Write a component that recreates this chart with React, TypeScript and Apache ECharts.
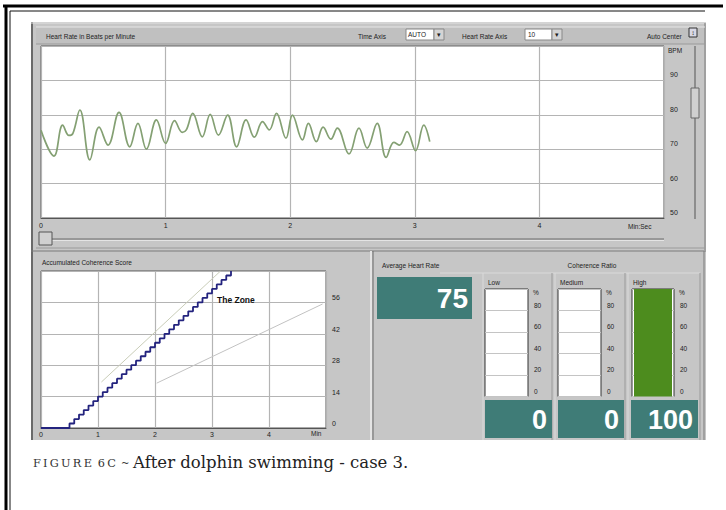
import React, { useEffect, useRef } from 'react';
import * as echarts from 'echarts';

// Heart rate trace (minutes, beats per minute)
const hrMinutes = [0, 0.104, 0.174, 0.224, 0.256, 0.312, 0.392, 0.466, 0.538, 0.626, 0.712, 0.778, 0.846, 0.926, 1.0, 1.072, 1.134, 1.166, 1.218, 1.294, 1.358, 1.424, 1.498, 1.57, 1.646, 1.712, 1.778, 1.832, 1.89, 1.966, 2.018, 2.098, 2.146, 2.21, 2.264, 2.326, 2.378, 2.472, 2.552, 2.618, 2.698, 2.77, 2.832, 2.878, 2.938, 3.006, 3.072, 3.12];
const hrBpm = [75.5, 68, 77, 74, 74.6, 81.4, 66.9, 76.4, 71.2, 80.7, 70.7, 77.5, 70, 78.5, 71.7, 78.3, 74.9, 75.6, 80.4, 73.6, 80.1, 74.1, 79.9, 70.7, 78.5, 73.5, 78, 75.6, 80.4, 73.2, 79.9, 72.7, 77.5, 72.2, 76.4, 72.9, 76.1, 68.6, 76.1, 70.3, 77.5, 67.6, 72, 71.2, 75.1, 69.6, 77, 72.2];

// Accumulated coherence score (seconds, score)
const scoreSeconds = [0, 25, 30, 35, 40, 45, 50, 55, 60, 65, 70, 75, 80, 85, 90, 95, 100, 105, 110, 115, 120, 125, 130, 135, 140, 145, 150, 155, 160, 165, 170, 175, 180, 185, 190, 195, 200];
const scoreValues = [0, 0, 2, 4, 6, 8, 10, 12, 14, 16, 18, 20, 22, 24, 26, 28, 30, 32, 34, 36, 38, 40, 42, 44, 46, 48, 50, 52, 54, 56, 58, 60, 62, 64, 66, 68, 70];

// Zone guide lines (minutes, score)
const zoneUpperX = [1.06, 3.15];
const zoneUpperY = [20.5, 70];
const zoneLowerX = [2.03, 4.94];
const zoneLowerY = [20, 55.3];

// Summary values
const averageHeartRate = 75;
const coherenceLevels = ['Low', 'Medium', 'High'];
const coherencePercent = [0, 0, 100];

// Tick labels
const hrTimeTicks = [0, 1, 2, 3, 4];
const hrBpmTicks = [50, 60, 70, 80, 90];
const scoreTicks = [0, 14, 28, 42, 56];
const pctTicks = [0, 20, 40, 60, 80];

const SANS = '"Liberation Sans", Arial, sans-serif';
const SERIF = '"DejaVu Serif", "Liberation Serif", serif';
const TEAL = '#3f7c77';
const PANEL = '#c6c6c6';

function txt(x: number, y: number, text: string, size = 6.5, extra: any = {}) {
  return {
    type: 'text',
    x,
    y,
    z: 100,
    style: {
      text,
      fill: '#222',
      font: `${extra.weight || 'normal'} ${size}px ${extra.family || SANS}`,
      align: extra.align || 'left',
      verticalAlign: 'middle',
      textAlign: extra.align || 'left',
      textVerticalAlign: 'middle',
      ...(extra.fill ? { fill: extra.fill } : {}),
    },
  };
}
function rect(x: number, y: number, w: number, h: number, style: any, z = -10) {
  return { type: 'rect', z, shape: { x, y, width: w, height: h }, style };
}
function line(x1: number, y1: number, x2: number, y2: number, stroke: string, lw = 1, z = -8) {
  return { type: 'line', z, shape: { x1, y1, x2, y2 }, style: { stroke, lineWidth: lw } };
}

export default function App() {
  const ref = useRef<HTMLDivElement>(null);
  useEffect(() => {
    if (!ref.current) return;
    const chart = echarts.init(ref.current, undefined, { renderer: 'svg' });

    const hrData = hrMinutes.map((m, i) => [m, hrBpm[i]]);
    const scoreData = scoreSeconds.map((s, i) => [s / 60, scoreValues[i]]);
    const upper = zoneUpperX.map((x, i) => [x, zoneUpperY[i]]);
    const lower = zoneLowerX.map((x, i) => [x, zoneLowerY[i]]);

    const barGrids = [
      { left: 485, top: 289, width: 43, height: 107.5 },
      { left: 558, top: 289, width: 43, height: 107.5 },
      { left: 632, top: 289, width: 42, height: 107.5 },
    ];
    const plotGrid = { show: true, backgroundColor: '#ffffff', borderColor: '#555', borderWidth: 1 };

    const axisLbl = { fontSize: 7, color: '#222', fontFamily: SANS };

    const xAxes: any[] = [
      {
        type: 'value', gridIndex: 0, min: 0, max: 5, interval: 1,
        axisLine: { show: true, lineStyle: { color: '#555' } }, axisTick: { show: false },
        splitLine: { show: true, lineStyle: { color: '#b4b4b4', width: 1.2 } },
        axisLabel: { ...axisLbl, margin: 4, formatter: (v: number) => (hrTimeTicks.includes(v) ? String(v) : '') },
      },
      {
        type: 'value', gridIndex: 1, min: 0, max: 5, interval: 1,
        axisLine: { show: true, lineStyle: { color: '#555' } }, axisTick: { show: false },
        splitLine: { show: true, lineStyle: { color: '#b4b4b4', width: 1.2 } },
        axisLabel: { ...axisLbl, margin: 3, formatter: (v: number) => (hrTimeTicks.includes(v) ? String(v) : '') },
      },
    ];
    const yAxes: any[] = [
      {
        type: 'value', gridIndex: 0, position: 'right', min: 50, max: 100, interval: 10,
        axisLine: { show: false }, axisTick: { show: false },
        splitLine: { show: true, lineStyle: { color: '#b4b4b4', width: 1.2 } },
        axisLabel: { ...axisLbl, margin: 6, verticalAlign: 'bottom', padding: [0, 0, 2, 0], formatter: (v: number) => (hrBpmTicks.includes(v) ? String(v) : '') },
      },
      {
        type: 'value', gridIndex: 1, position: 'right', min: 0, max: 70, interval: 14,
        axisLine: { show: false }, axisTick: { show: false },
        splitLine: { show: true, lineStyle: { color: '#b4b4b4', width: 1.2 } },
        axisLabel: { ...axisLbl, margin: 6, verticalAlign: 'bottom', padding: [0, 0, 1, 0], formatter: (v: number) => (scoreTicks.includes(v) ? String(v) : '') },
      },
    ];
    const series: any[] = [
      {
        type: 'line', xAxisIndex: 0, yAxisIndex: 0, data: hrData, smooth: 0.4, showSymbol: false,
        lineStyle: { color: '#84a073', width: 1.7 },
      },
      {
        type: 'line', xAxisIndex: 1, yAxisIndex: 1, data: upper, showSymbol: false,
        lineStyle: { color: '#c9cdb8', width: 1 },
      },
      {
        type: 'line', xAxisIndex: 1, yAxisIndex: 1, data: lower, showSymbol: false,
        lineStyle: { color: '#c2c2c2', width: 1 },
      },
      {
        type: 'line', xAxisIndex: 1, yAxisIndex: 1, data: scoreData, step: 'end', showSymbol: false,
        lineStyle: { color: '#23237e', width: 1.8 },
      },
    ];
    barGrids.forEach((g, i) => {
      xAxes.push({
        type: 'category', gridIndex: 2 + i, data: [coherenceLevels[i]],
        axisLine: { show: false }, axisTick: { show: false }, axisLabel: { show: false },
      });
      yAxes.push({
        type: 'value', gridIndex: 2 + i, position: 'right', min: 0, max: 100, interval: 20,
        axisLine: { show: false }, axisTick: { show: false },
        splitLine: { show: true, lineStyle: { color: '#c4c4c4', width: 1 } },
        axisLabel: { ...axisLbl, fontSize: 6.5, margin: 6, verticalAlign: 'bottom', padding: [0, 0, 2, 0], formatter: (v: number) => (pctTicks.includes(v) ? String(v) : '') },
      });
      series.push({
        type: 'bar', xAxisIndex: 2 + i, yAxisIndex: 2 + i, data: [coherencePercent[i]],
        barWidth: 38, itemStyle: { color: '#4d8c1e' },
      });
    });

    const elements: any[] = [
      // page frame
      line(3, 6, 723, 6, '#000', 3, 5),
      line(6, 5, 6, 510, '#000', 3, 5),
      line(10, 11, 705, 11, '#111', 1, 5),
      line(10, 11, 10, 510, '#111', 1, 5),
      // screenshot panel
      rect(31, 22, 675, 418, { fill: PANEL }, -20),
      line(32, 22, 32, 440, '#6a6a6a', 2, -9),
      line(31, 23, 706, 23, '#e2e2e2', 1, -9),
      line(705, 23, 705, 250, '#7a7a7a', 1, -9),
      rect(36, 27, 669, 17, { fill: '#c0c0c0' }, -15),
      line(36, 27, 705, 27, '#e6e6e6', 1, -9),
      line(36, 44, 705, 44, '#9a9a9a', 1, -9),
      // top header texts
      txt(46, 36, 'Heart Rate in Beats per Minute'),
      txt(358, 36, 'Time Axis'),
      rect(406, 29, 28, 11, { fill: '#fff', stroke: '#888', lineWidth: 1 }, 20),
      txt(408, 34.5, 'AUTO'),
      rect(434, 29, 10, 11, { fill: '#d4d4d4', stroke: '#888', lineWidth: 1 }, 20),
      txt(439, 34.5, '▾', 7, { align: 'center' }),
      txt(462, 36, 'Heart Rate Axis'),
      rect(525, 29, 27, 11, { fill: '#fff', stroke: '#888', lineWidth: 1 }, 20),
      txt(528, 34.5, '10'),
      rect(552, 29, 10, 11, { fill: '#d4d4d4', stroke: '#888', lineWidth: 1 }, 20),
      txt(557, 34.5, '▾', 7, { align: 'center' }),
      txt(647, 36, 'Auto Center'),
      rect(689, 28, 8, 9, { fill: '#d8d8e4', stroke: '#333', lineWidth: 1 }, 20),
      txt(693, 32.5, '↕', 6.5, { align: 'center' }),
      // top plot extras
      txt(668, 50, 'BPM'),
      txt(628, 226, 'Min:Sec'),
      line(695, 46, 695, 219, '#555', 1, 20),
      rect(691, 88, 8, 30, { fill: '#d0d0d0', stroke: '#666', lineWidth: 1 }, 21),
      line(52, 239, 664, 239, '#6a6a6a', 1, 20),
      line(52, 240.5, 664, 240.5, '#e4e4e4', 1, 20),
      rect(39, 232, 13, 13, { fill: '#d0d0d0', stroke: '#555', lineWidth: 1 }, 21),
      line(36, 248, 705, 248, '#9a9a9a', 1, -9),
      line(31, 251, 706, 251, '#7a7a7a', 1, -9),
      // bottom-left panel
      line(371, 251, 371, 440, '#e4e4e4', 2, -9),
      txt(42, 262, 'Accumulated Coherence Score'),
      txt(311, 433, 'Min'),
      txt(217, 300, 'The Zone', 8.5, { weight: 'bold', fill: '#111' }),
      // bottom-right panel
      line(373, 251, 373, 440, '#6a6a6a', 1, -9),
      line(704, 251, 704, 440, '#7a7a7a', 1, -9),
      txt(382, 265, 'Average Heart Rate'),
      rect(377, 277, 95, 42, { fill: TEAL }, 20),
      txt(468, 298, String(averageHeartRate), 28, { weight: 'bold', fill: '#fff', align: 'right' }),
      txt(592, 265, 'Coherence Ratio', 6.5, { align: 'center' }),
      line(440, 273, 700, 273, '#dadada', 1, -9),
    ];
    const subX = [483, 555, 628];
    const subW = [70, 71, 73];
    const valueBoxX = [485, 558, 631];
    const valueBoxW = [67, 66, 67];
    coherenceLevels.forEach((lvl, i) => {
      elements.push(line(subX[i], 273, subX[i], 440, '#dadada', 1, -9));
      elements.push(line(subX[i] + subW[i] - 1, 273, subX[i] + subW[i] - 1, 440, '#9a9a9a', 1, -9));
      elements.push(txt(subX[i] + 5, 282, lvl));
      elements.push(txt(barGrids[i].left + barGrids[i].width + 5, 292, '%'));
      elements.push(rect(valueBoxX[i], 400, valueBoxW[i], 38, { fill: TEAL }, 20));
      elements.push(
        txt(valueBoxX[i] + valueBoxW[i] - 5, 420, String(coherencePercent[i]), 27, { weight: 'bold', fill: '#fff', align: 'right' })
      );
    });
    // caption
    elements.push(txt(33, 463, 'F\u2009I\u2009G\u2009U\u2009R\u2009E\u2009 6\u2009C', 11.3, { family: SERIF, fill: '#333' }));
    elements.push(txt(121, 462, '~', 10, { family: SERIF, fill: '#333' }));
    elements.push(txt(133, 462, 'After dolphin swimming - case 3.', 16.5, { family: SERIF, fill: '#222' }));

    chart.setOption({
      animation: false,
      backgroundColor: '#ffffff',
      textStyle: { fontFamily: SANS },
      grid: [
        { left: 41, top: 46, width: 623, height: 172, ...plotGrid },
        { left: 41, top: 271, width: 285, height: 157, ...plotGrid },
        ...barGrids.map((g) => ({ ...g, show: true, backgroundColor: '#fff', borderColor: '#333', borderWidth: 1 })),
      ],
      xAxis: xAxes,
      yAxis: yAxes,
      series,
      graphic: { elements },
    });
    return () => chart.dispose();
  }, []);
  return <div ref={ref} style={{ position: 'fixed', left: 0, top: 0, width: 726, height: 510, background: '#fff' }} />;
}
